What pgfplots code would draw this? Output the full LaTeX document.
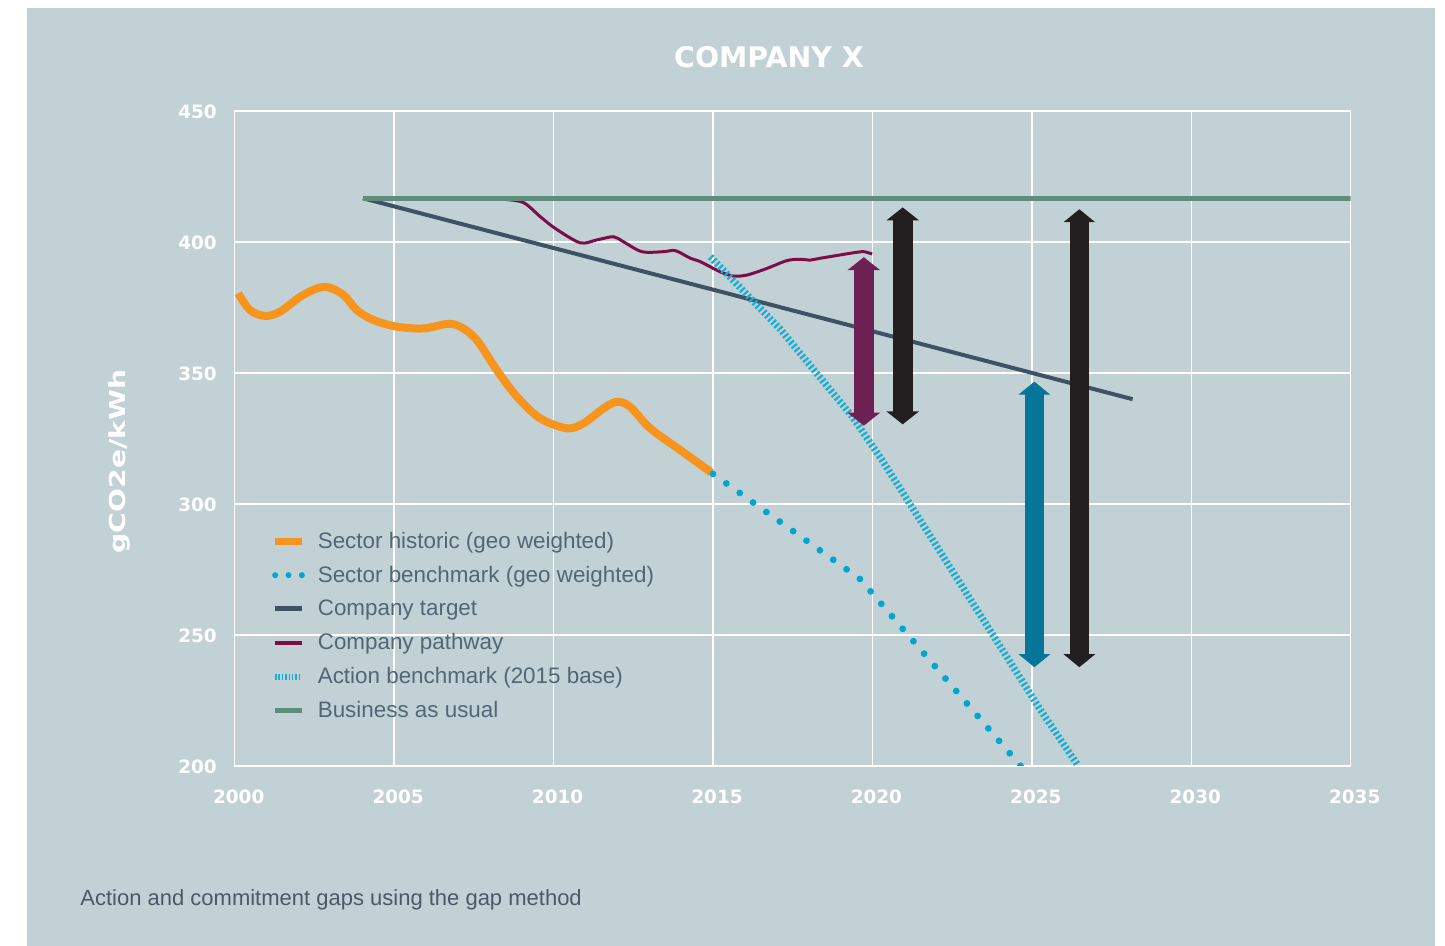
\documentclass[border=0pt]{standalone}
\usepackage{pgfplots}
\pgfplotsset{compat=1.18}
\usetikzlibrary{arrows.meta}
\usepackage{fontspec}
\setmainfont{Liberation Sans}
\newfontfamily\dvb{DejaVu Sans}
\definecolor{bg}{HTML}{C2D1D6}
\definecolor{orng}{HTML}{F7941D}
\definecolor{cyanb}{HTML}{00A6CE}
\definecolor{hatchc}{HTML}{1AAED0}
\definecolor{slate}{HTML}{3F5263}
\definecolor{maroonl}{HTML}{7D0C48}
\definecolor{bau}{HTML}{5F8D7B}
\definecolor{marr}{HTML}{6D2054}
\definecolor{blk}{HTML}{231F20}
\definecolor{tealarr}{HTML}{05769A}
\definecolor{legtxt}{HTML}{526775}
\definecolor{captxt}{HTML}{4A5967}
\begin{document}
\begin{tikzpicture}[x=1pt,y=1pt]
\useasboundingbox (0,0) rectangle (722.5,473);
\fill[white] (0,0) rectangle (722.5,473);
\fill[bg] (13.5,0) rectangle (717.5,469);
\begin{axis}[
  at={(117.35pt,90pt)}, anchor=south west,
  scale only axis, width=558pt, height=327.5pt,
  xmin=2000, xmax=2035, ymin=200, ymax=450,
  xtick={2000,2005,...,2035}, ytick={200,250,...,450},
  grid=major, major grid style={white, line width=0.75pt},
  axis line style={white, line width=0.75pt},
  tick style={draw=none},
  /pgf/number format/assume math mode=true,
  /pgf/number format/1000 sep={},
  xticklabel style={font=\dvb\bfseries\fontsize{9.2}{11}\selectfont, text=white, inner sep=0pt, anchor=north, yshift=-11.6pt, xshift=2pt},
  yticklabel style={font=\dvb\bfseries\fontsize{9.2}{11}\selectfont, text=white, inner sep=0pt, anchor=east, xshift=-8.8pt, yshift=-0.6pt},
  legend cell align=left,
  legend style={at={(0.0271,0.3710)}, anchor=north west, draw=none, fill=none,
    font=\fontsize{11.2}{13}\selectfont, text=legtxt, row sep=2.9pt,
    /tikz/every even column/.append style={text height=8.5pt, text depth=2.5pt, inner sep=0.5pt}},
]
% Sector historic
\addplot[orng, line width=4pt, smooth, tension=0.55, line join=round,
  legend image code/.code={\draw[orng, line width=3.8pt] (0pt,0pt) -- (13.35pt,0pt); \path (17.35pt,0pt);}]
coordinates {
(2000.11,380.4) (2000.48,374) (2000.95,371.8) (2001.42,373.4) (2002.15,379.8)
(2002.83,382.9) (2003.41,379.8) (2003.83,374.0) (2004.35,370.2) (2005.08,367.7)
(2005.92,367.0) (2006.65,368.7) (2007.07,367.7) (2007.59,362.6) (2008.22,351.1)
(2008.85,341) (2009.58,332.7) (2010.42,328.9) (2010.94,330.8) (2011.57,336.5)
(2011.99,339.0) (2012.4,337.1) (2013.03,328.9) (2013.97,320.6) (2014.95,312)
};
\addlegendentry{Sector historic (geo weighted)}
% Sector benchmark
\addplot[cyanb, line width=3.4pt, line cap=round, dash pattern=on 0pt off 8.21pt,
  legend image code/.code={\draw[cyanb, line width=3pt, line cap=round, dash pattern=on 0pt off 6.675pt] (0pt,0pt) -- (13.4pt,0pt); \path (17.35pt,0pt);}]
coordinates {(2015,311.5) (2019.6,271.5) (2024.65,200)};
\addlegendentry{Sector benchmark (geo weighted)}
% Company target
\addplot[slate, line width=2pt,
  legend image code/.code={\draw[slate, line width=2.5pt] (0pt,0pt) -- (13.35pt,0pt); \path (17.35pt,0pt);}]
coordinates {(2004.02,416.7) (2028.16,340)};
\addlegendentry{Company target}
% Company pathway
\addplot[maroonl, line width=1.5pt, smooth, tension=0.5,
  legend image code/.code={\draw[maroonl, line width=2.2pt] (0pt,0pt) -- (13.35pt,0pt); \path (17.35pt,0pt);}]
coordinates {
(2007.5,416.7) (2008.43,416.3) (2009.06,415) (2009.58,409.7) (2010.05,405.2)
(2010.83,399.7) (2011.36,400.8) (2011.88,402) (2012.19,400.1) (2012.77,396.3)
(2013.45,396.3) (2013.82,396.7) (2014.29,393.8) (2014.6,392.5) (2015.23,388.6)
(2015.65,387) (2016.07,387.4) (2016.69,389.9) (2017.32,392.9) (2017.74,393.4)
(2018.05,393.1) (2018.37,393.8) (2019.31,395.7) (2019.72,396.3) (2019.99,395.4)
};
\addlegendentry{Company pathway}
% Action benchmark
\addplot[hatchc, line width=3.5pt, dash pattern=on 1.1pt off 1.15pt,
  legend image code/.code={\draw[hatchc, line width=3pt, dash pattern=on 0.8pt off 0.87pt] (0pt,0pt) -- (13.35pt,0pt); \path (17.35pt,0pt);}]
coordinates {(2014.92,394.4) (2017.11,366.7) (2019.36,333.5) (2020.3,316.8) (2025.27,221.4) (2026.43,200.5)};
\addlegendentry{Action benchmark (2015 base)}
% Business as usual
\addplot[bau, line width=2.4pt,
  legend image code/.code={\draw[bau, line width=2.5pt] (0pt,0pt) -- (13.35pt,0pt); \path (17.35pt,0pt);}]
coordinates {(2004.02,416.7) (2035,416.7)};
\addlegendentry{Business as usual}
% Gap arrows
\addplot[forget plot, marr, line width=10pt, {Triangle[width=16pt,length=6.5pt]}-{Triangle[width=16pt,length=6.5pt]}]
coordinates {(2019.73,329.9) (2019.73,394.2)};
\addplot[forget plot, blk, line width=10pt, {Triangle[width=16pt,length=6.5pt]}-{Triangle[width=16pt,length=6.5pt]}]
coordinates {(2020.95,330.4) (2020.95,413.2)};
\addplot[forget plot, tealarr, line width=9.5pt, {Triangle[width=15.5pt,length=6.5pt]}-{Triangle[width=15.5pt,length=6.5pt]}]
coordinates {(2025.08,237.7) (2025.08,346.7)};
\addplot[forget plot, blk, line width=9.5pt, {Triangle[width=15.5pt,length=6.5pt]}-{Triangle[width=15.5pt,length=6.5pt]}]
coordinates {(2026.49,237.7) (2026.49,412.5)};
\end{axis}
\node[font=\dvb\bfseries\fontsize{14.2}{16}\selectfont, text=white] at (384.5,444.5) {COMPANY X};
\node[rotate=90, text=white, font=\dvb\bfseries\fontsize{11}{13}\selectfont] at (60,242.25) {\scalebox{1.28}[1]{gCO2e/kWh}};
\node[anchor=base west, inner sep=0pt, font=\fontsize{11}{13}\selectfont, text=captxt] at (40,20) {Action and commitment gaps using the gap method};
\end{tikzpicture}
\end{document}
